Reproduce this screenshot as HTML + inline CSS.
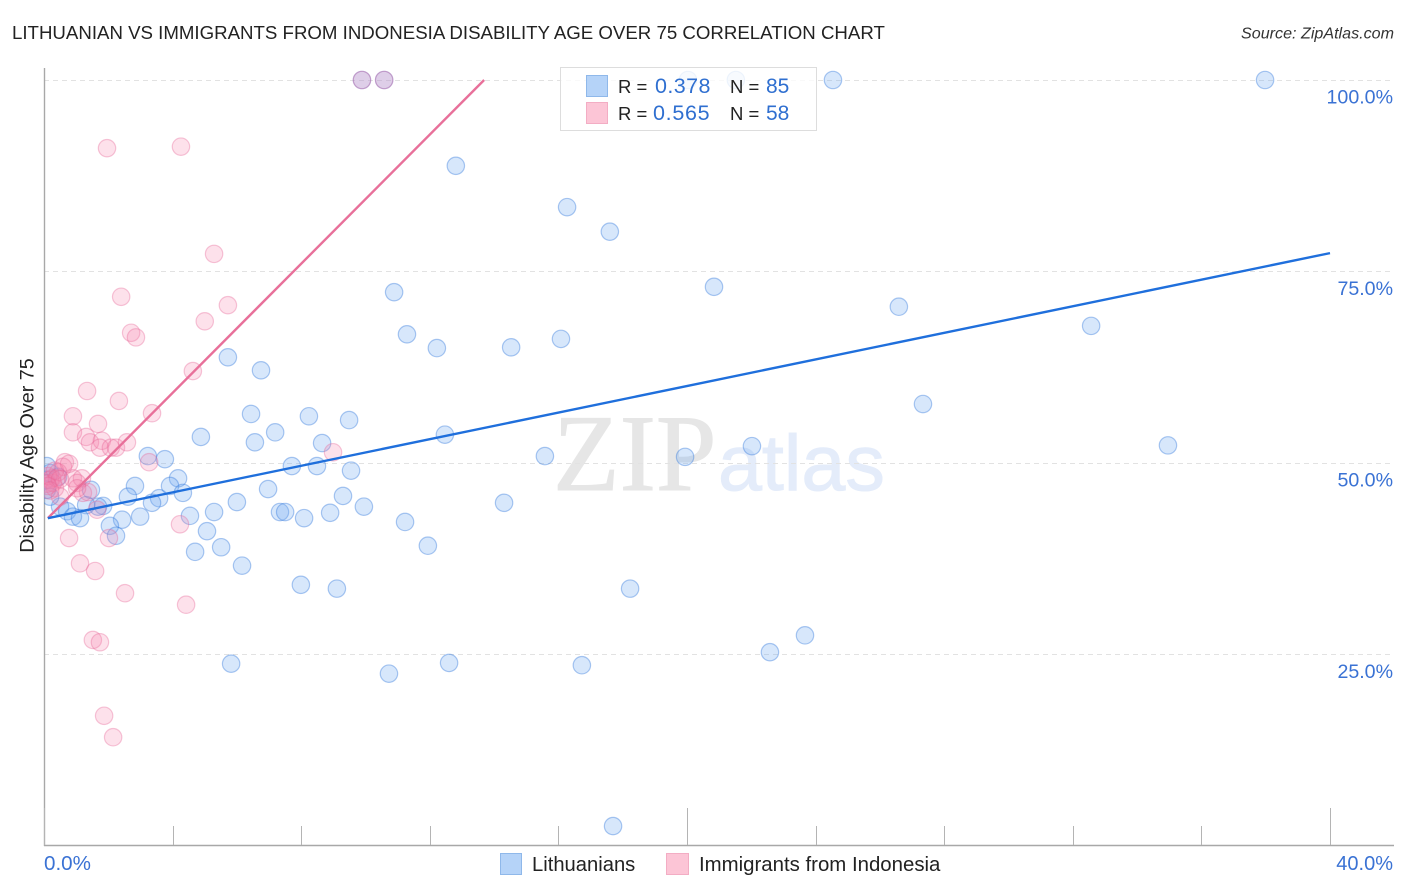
<!DOCTYPE html>
<html lang="en">
<head>
<meta charset="utf-8">
<title>Lithuanian vs Immigrants from Indonesia Disability Age Over 75 Correlation Chart</title>
<style>
html,body{margin:0;padding:0;background:#fff;width:1406px;height:892px;overflow:hidden}
svg{display:block;font-family:"Liberation Sans",sans-serif}
</style>
</head>
<body>
<svg id="chart" xmlns="http://www.w3.org/2000/svg" width="1406" height="892" viewBox="0 0 1406 892">
  <defs><clipPath id="plot-clip"><rect x="44" y="60" width="1362" height="786"/></clipPath></defs>
  <text x="12" y="39" font-size="18.67" fill="#222">LITHUANIAN VS IMMIGRANTS FROM INDONESIA DISABILITY AGE OVER 75 CORRELATION CHART</text>
  <text x="1394" y="38.500" font-size="16.1" font-style="italic" fill="#333" text-anchor="end">Source: ZipAtlas.com</text>
  <g id="watermark">
    <text x="553" y="490" font-family="'Liberation Serif',serif" font-size="109" fill="#e6e6e6" stroke="#e6e6e6" stroke-width="1">ZIP</text>
    <text x="718" y="490" font-size="79" fill="#e4ecfa" stroke="#e4ecfa" stroke-width="1">atlas</text>
  </g>
  <g id="grid"></g>
  <g id="axes"></g>
  <g id="points" clip-path="url(#plot-clip)"></g>
  <g id="trends"></g>
  <g>
    <rect x="560.500" y="67.500" width="256" height="63" fill="#fff" fill-opacity="0.8" stroke="#ddd"/>
    <rect x="586.500" y="75.500" width="21" height="21" fill="#b5d3f8" stroke="#8fb8ea"/>
    <rect x="586.500" y="102.500" width="21" height="21" fill="#fcc5d6" stroke="#f3adc4"/>
    <text x="618" y="93" font-size="18.5" fill="#222">R =</text>
    <text x="655" y="93" font-size="21.5" letter-spacing="0.4" fill="#2f6fd0">0.378</text>
    <text x="730" y="93" font-size="18.5" fill="#222">N =</text>
    <text x="766" y="93" font-size="21" fill="#2f6fd0">85</text>
    <text x="618" y="120" font-size="18.5" fill="#222">R =</text>
    <text x="653" y="120" font-size="21.5" letter-spacing="0.7" fill="#2f6fd0">0.565</text>
    <text x="730" y="120" font-size="18.5" fill="#222">N =</text>
    <text x="766" y="120" font-size="21" fill="#2f6fd0">58</text>
  </g>
  <g>
    <rect x="500.500" y="853.500" width="21" height="21" fill="#b5d3f8" stroke="#8fb8ea"/>
    <text x="532" y="871" font-size="20.2" fill="#222">Lithuanians</text>
    <rect x="666.500" y="853.500" width="22" height="21" fill="#fcc5d6" stroke="#f3adc4"/>
    <text x="699" y="871" font-size="20.4" fill="#222">Immigrants from Indonesia</text>
  </g>
</svg>
<script>
// Data (x = % Lithuanians / Immigrants share, y = Disability Age Over 75 %)
const lithuaniansX = [9.89,10.58,20.03,21.52,24.54,37.98,12.81,16.27,17.6,10.89,20.84,26.59,32.57,11.29,12.22,14.53,16.08,5.72,6.75,27.34,6.44,8.24,9.49,7.19,4.88,6.56,8.65,12.47,34.96,22.02,3.23,3.76,15.58,19.94,7.71,8.49,9.55,4.17,2.83,3.92,2.61,3.58,4.32,6.97,9.3,3.36,6.0,14.31,9.95,1.84,1.68,1.31,7.34,7.5,5.29,8.9,4.54,8.09,2.43,2.99,11.23,0.5,0.72,0.9,1.12,2.05,2.24,5.07,5.51,11.94,4.7,6.16,7.99,9.11,18.23,23.67,22.58,5.82,12.6,16.73,10.73,17.7,0.19,0.19,1.46,0.06,0.09,0.44,0.09];
const lithuaniansY = [100,100,100,100,100,100,88.8,83.4,80.2,72.3,73.0,70.4,67.9,66.8,65.0,65.1,66.2,63.8,62.1,57.7,56.4,56.1,55.6,54.0,53.4,52.7,52.6,53.7,52.3,52.2,50.9,50.5,50.9,50.8,49.6,49.6,49.0,48.0,47.0,47.0,45.6,45.4,46.1,46.6,45.7,44.8,44.9,44.8,44.3,44.4,44.3,44.5,43.6,43.6,43.6,43.5,43.1,42.8,42.6,43.0,42.3,44.3,43.7,43.0,42.8,41.8,40.5,41.1,39.0,39.2,38.4,36.6,34.1,33.6,33.6,27.5,25.3,23.8,23.9,23.6,22.5,2.6,48.7,45.6,46.5,47.8,49.6,48.2,46.5];
const indonesiaX = [9.89,10.58,1.96,4.26,5.29,2.4,5.72,5.0,2.71,2.86,4.63,1.34,2.33,0.9,3.36,1.68,0.9,1.31,1.43,1.8,1.74,2.08,2.24,2.58,8.99,3.27,0.65,0.59,0.44,0.25,0.28,0.19,0.34,0.5,0.9,1.18,1.03,1.21,1.37,1.65,1.03,4.23,2.02,0.78,1.12,1.59,2.52,4.42,1.52,1.74,1.87,2.15,0.12,0.09,0.34,0.4,0.5,0.12,0.19,0.78];
const indonesiaY = [100,100,91.1,91.3,77.3,71.7,70.6,68.5,67.0,66.4,62.0,59.4,58.1,56.1,56.5,55.1,54.0,53.4,52.7,52.9,52.0,52.0,52.0,52.7,51.4,50.1,50.1,49.5,48.8,48.0,47.4,47.8,46.7,45.6,48.0,48.0,47.4,46.1,46.2,43.9,46.7,42.0,40.2,40.2,36.9,35.9,33.0,31.5,26.9,26.6,17.0,14.2,48.3,47.3,49.0,48.0,47.9,47.0,46.4,49.9];
const lithuaniansTrendX = [0.12,40];
const lithuaniansTrendY = [42.8,77.4];
const indonesiaTrendX = [0.12,13.69];
const indonesiaTrendY = [42.8,100];
const xTickValues = [0,4,8,12,16,20,24,28,32,36,40];
const xTickMajor = [0,20,40];
const xTickLabels = ["0.0%","40.0%"];
const yGridValues = [100,75,50,25];
const yTickLabels = ["100.0%","75.0%","50.0%","25.0%"];
const yAxisTitle = "Disability Age Over 75";

const SVG_NS = "http://www.w3.org/2000/svg";
const xScale = v => 44 + v * 32.15;
const yScale = v => 846 - v * 7.66;
const gridG = document.getElementById("grid");
const axesG = document.getElementById("axes");
const pointsG = document.getElementById("points");
const trendsG = document.getElementById("trends");

yGridValues.forEach((v, i) => {
  const line = document.createElementNS(SVG_NS, "line");
  
  
  line.setAttribute("x1", 44);
  line.setAttribute("x2", 1394);
  line.setAttribute("y1", Math.floor(yScale(v)) + 0.5);
  line.setAttribute("y2", Math.floor(yScale(v)) + 0.5);
  line.setAttribute("stroke", "#e2e2e2");
  line.setAttribute("stroke-dasharray", "5 4");
  gridG.appendChild(line);
  const label = document.createElementNS(SVG_NS, "text");
  
  
  label.setAttribute("x", 1393);
  label.setAttribute("y", yScale(v) + 23.5);
  label.setAttribute("text-anchor", "end");
  label.setAttribute("font-size", "19.6");
  label.setAttribute("fill", "#3a72d4");
  label.textContent = yTickLabels[i];
  axesG.appendChild(label);
});

function axisLine(name, x1, y1, x2, y2, color, width) {
  const l = document.createElementNS(SVG_NS, "line");
  
  
  l.setAttribute("x1", x1);
  l.setAttribute("y1", y1);
  l.setAttribute("x2", x2);
  l.setAttribute("y2", y2);
  l.setAttribute("stroke", color);
  l.setAttribute("stroke-width", width);
  axesG.appendChild(l);
}
axisLine("y-axis-line", 44.5, 68, 44.5, 846, "#a8a8a8", 1.4);
axisLine("x-axis-line", 44, 845.5, 1394, 845.5, "#a8a8a8", 1.4);
xTickValues.forEach(v => {
  const major = xTickMajor.includes(v);
  const x = Math.round(xScale(v)) + 0.5;
  axisLine("x-tick", x, major ? 808 : 826, x, 845, "#b4b4b4", 1);
});

const x0Label = document.createElementNS(SVG_NS, "text");


x0Label.setAttribute("x", xScale(0));
x0Label.setAttribute("y", 870);
x0Label.setAttribute("font-size", "20.6");
x0Label.setAttribute("fill", "#3a72d4");
x0Label.textContent = xTickLabels[0];
axesG.appendChild(x0Label);

const x1Label = document.createElementNS(SVG_NS, "text");


x1Label.setAttribute("x", 1393);
x1Label.setAttribute("y", 870);
x1Label.setAttribute("text-anchor", "end");
x1Label.setAttribute("font-size", "20");
x1Label.setAttribute("fill", "#3a72d4");
x1Label.textContent = xTickLabels[1];
axesG.appendChild(x1Label);

const yTitle = document.createElementNS(SVG_NS, "text");


yTitle.setAttribute("transform", "translate(33.5 455.5) rotate(-90)");
yTitle.setAttribute("text-anchor", "middle");
yTitle.setAttribute("font-size", "19.8");
yTitle.setAttribute("fill", "#222");
yTitle.textContent = yAxisTitle;
axesG.appendChild(yTitle);

function drawPoints(xs, ys, name, fill, stroke) {
  xs.forEach((v, i) => {
    const c = document.createElementNS(SVG_NS, "circle");
    
    
    c.setAttribute("cx", xScale(v));
    c.setAttribute("cy", yScale(ys[i]));
    c.setAttribute("r", 8.7);
    c.setAttribute("fill", fill);
    c.setAttribute("stroke", stroke);
    c.setAttribute("stroke-width", 1.2);
    pointsG.appendChild(c);
  });
}
drawPoints(lithuaniansX, lithuaniansY, "lithuanians-point", "rgba(110,170,240,0.28)", "rgba(50,120,220,0.4)");
drawPoints(indonesiaX, indonesiaY, "indonesia-point", "rgba(245,130,170,0.24)", "rgba(230,100,150,0.36)");

function drawTrend(xs, ys, name, color) {
  const l = document.createElementNS(SVG_NS, "line");
  
  
  l.setAttribute("x1", xScale(xs[0]));
  l.setAttribute("y1", yScale(ys[0]));
  l.setAttribute("x2", xScale(xs[1]));
  l.setAttribute("y2", yScale(ys[1]));
  l.setAttribute("stroke", color);
  l.setAttribute("stroke-width", 2.4);
  trendsG.appendChild(l);
}
drawTrend(indonesiaTrendX, indonesiaTrendY, "indonesia-trend-line", "#e8709a");
drawTrend(lithuaniansTrendX, lithuaniansTrendY, "lithuanians-trend-line", "#1f6fdc");
</script>
</body>
</html>
